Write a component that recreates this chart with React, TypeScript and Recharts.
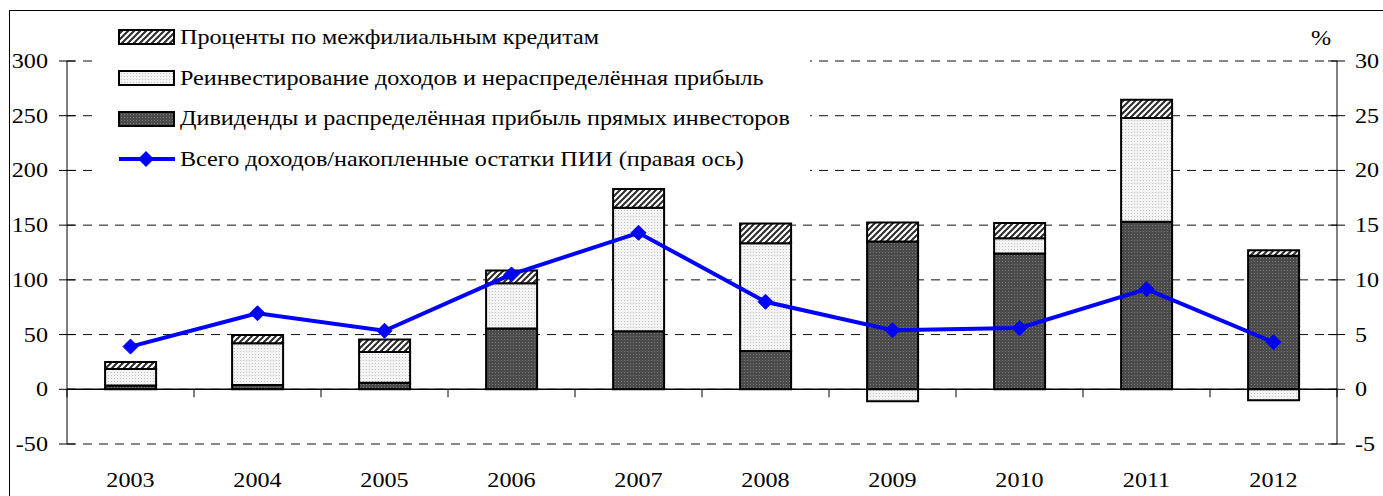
import {
  Bar,
  ComposedChart,
  CartesianGrid,
  Legend,
  Line,
  ReferenceLine,
  XAxis,
  YAxis,
} from 'recharts'

const YEARS = ['2003', '2004', '2005', '2006', '2007', '2008', '2009', '2010', '2011', '2012']
const DIVIDENDS = [3.5, 4, 6, 55.5, 53, 35, 135, 124, 153, 122]
const REINVESTED = [15, 38, 28, 41.5, 113, 98.5, -11, 14, 95, -10]
const INTEREST = [6.5, 7.5, 11.5, 11.5, 17, 18, 17.5, 14, 16.5, 5]
const INCOME_RATIO = [3.9, 6.95, 5.35, 10.5, 14.3, 8.0, 5.4, 5.6, 9.15, 4.3]

const LEFT_TICKS = [-50, 0, 50, 100, 150, 200, 250, 300]
const RIGHT_TICKS = [-5, 0, 5, 10, 15, 20, 25, 30]

const SERIES_NAMES = [
  'Проценты по межфилиальным кредитам',
  'Реинвестирование доходов и нераспределённая прибыль',
  'Дивиденды и распределённая прибыль прямых инвесторов',
  'Всего доходов/накопленные остатки ПИИ (правая ось)',
]

const W = 1383
const H = 496
const TOP = 61
const BOTTOM_AXIS = 52
const LEFT_AXIS = 67
const RIGHT_AXIS = 46
const PLOT_H = H - TOP - BOTTOM_AXIS
const ZERO_OFFSET = (PLOT_H * 50) / 350
const BAND_HALF = (W - LEFT_AXIS - RIGHT_AXIS) / YEARS.length / 2

const FONT = '"Liberation Serif", "Times New Roman", serif'
const STRETCH = 1.15

const data = YEARS.map((year, i) => ({
  year,
  dividends: DIVIDENDS[i],
  reinvested: REINVESTED[i],
  interest: INTEREST[i],
  ratio: INCOME_RATIO[i],
}))

function Patterns({ prefix }: { prefix: string }) {
  return (
    <defs>
      <pattern id={`${prefix}-dark`} width="3" height="3" patternUnits="userSpaceOnUse">
        <rect width="3" height="3" fill="#4b4b4b" />
        <rect width="1" height="1" fill="#7a7a7a" />
      </pattern>
      <pattern id={`${prefix}-light`} width="3" height="3" patternUnits="userSpaceOnUse">
        <rect width="3" height="3" fill="#f3f3f3" />
        <rect width="1" height="1" fill="#c4c4c4" />
      </pattern>
      <pattern id={`${prefix}-hatch`} width="6" height="6" patternUnits="userSpaceOnUse">
        <rect width="6" height="6" fill="#fff" />
        <path d="M-1,1 l2,-2 M0,6 l6,-6 M5,7 l2,-2" stroke="#2a2a2a" strokeWidth="2" />
      </pattern>
    </defs>
  )
}

function LeftTick({ x, y, payload }: any) {
  return (
    <g>
      <line x1={x - 8} x2={x + 8} y1={y} y2={y} stroke="#000" />
      <text
        transform={`translate(${x - 19},${y + 7}) scale(${STRETCH},1)`}
        textAnchor="end"
        fontSize={21}
        fontFamily={FONT}
        fill="#000"
      >
        {payload.value}
      </text>
    </g>
  )
}

function RightTick({ x, y, payload }: any) {
  return (
    <g>
      <line x1={x - 9} x2={x + 8} y1={y} y2={y} stroke="#000" />
      <text
        transform={`translate(${x + 18},${y + 7}) scale(${STRETCH},1)`}
        textAnchor="start"
        fontSize={21}
        fontFamily={FONT}
        fill="#000"
      >
        {payload.value}
      </text>
    </g>
  )
}

function YearTick({ x, y, payload, index }: any) {
  const zy = y - ZERO_OFFSET
  return (
    <g>
      <line x1={x - BAND_HALF} x2={x - BAND_HALF} y1={zy} y2={zy + 8} stroke="#000" />
      {index === YEARS.length - 1 && (
        <line x1={x + BAND_HALF} x2={x + BAND_HALF} y1={zy} y2={zy + 8} stroke="#000" />
      )}
      <text
        transform={`translate(${x},${y + 43}) scale(${STRETCH},1)`}
        textAnchor="middle"
        fontSize={21}
        fontFamily={FONT}
        fill="#000"
      >
        {payload.value}
      </text>
    </g>
  )
}

function Diamond({ cx, cy }: any) {
  if (cx == null || cy == null) return null
  const r = 7.5
  return (
    <polygon
      points={`${cx},${cy - r} ${cx + r},${cy} ${cx},${cy + r} ${cx - r},${cy}`}
      fill="#0000ff"
      stroke="#0000ff"
    />
  )
}

function LegendIcon({ kind }: { kind: string }) {
  if (kind === 'line') {
    return (
      <svg width={58} height={20} style={{ display: 'block' }}>
        <line x1={1} x2={57} y1={10} y2={10} stroke="#0000ff" strokeWidth={4} />
        <polygon points="28,2 36,10 28,18 20,10" fill="#0000ff" />
      </svg>
    )
  }
  return (
    <svg width={58} height={16} style={{ display: 'block' }}>
      <Patterns prefix="lg" />
      <rect x={1} y={1} width={55} height={14} fill={`url(#lg-${kind})`} stroke="#000" strokeWidth={2} />
    </svg>
  )
}

const LEGEND_KINDS = ['hatch', 'light', 'dark', 'line']

function ChartLegend() {
  return (
    <div style={{ fontFamily: FONT, fontSize: 21, color: '#000' }}>
      {SERIES_NAMES.map((name, i) => (
        <div key={name} style={{ height: 40.7, display: 'flex', alignItems: 'center', paddingLeft: 26 }}>
          <LegendIcon kind={LEGEND_KINDS[i]} />
          <span
            style={{
              marginLeft: 4,
              whiteSpace: 'nowrap',
              display: 'inline-block',
              transform: `scaleX(${STRETCH})`,
              transformOrigin: 'left center',
            }}
          >
            {name}
          </span>
        </div>
      ))}
    </div>
  )
}

export default function App() {
  return (
    <div style={{ position: 'absolute', left: 0, top: 0, width: W, height: H, overflow: 'hidden', background: '#fff' }}>
      <div
        style={{
          position: 'absolute',
          left: 9,
          top: 10,
          width: 2000,
          height: 2000,
          border: '1.5px solid #000',
        }}
      />
      <div style={{ position: 'absolute', left: 0, top: 0 }}>
        <ComposedChart
          width={W}
          height={H}
          data={data}
          stackOffset="sign"
          barCategoryGap="30%"
          margin={{ top: TOP, right: 0, bottom: 0, left: 0 }}
        >
          <Patterns prefix="ch" />
          <CartesianGrid vertical={false} stroke="#111" strokeDasharray="9 7" yAxisId="left" />
          <XAxis
            dataKey="year"
            height={BOTTOM_AXIS}
            axisLine={false}
            tickLine={false}
            tickSize={0}
            tickMargin={0}
            tick={<YearTick />}
            interval={0}
          />
          <YAxis
            yAxisId="left"
            domain={[-50, 300]}
            ticks={LEFT_TICKS}
            width={LEFT_AXIS}
            axisLine={{ stroke: '#000' }}
            tickLine={false}
            tickSize={0}
            tickMargin={0}
            tick={<LeftTick />}
            allowDataOverflow
          />
          <YAxis
            yAxisId="right"
            orientation="right"
            domain={[-5, 30]}
            ticks={RIGHT_TICKS}
            width={RIGHT_AXIS}
            axisLine={{ stroke: '#000' }}
            tickLine={false}
            tickSize={0}
            tickMargin={0}
            tick={<RightTick />}
            allowDataOverflow
            label={({ viewBox }: any) => (
              <text
                transform={`translate(${viewBox.x - 16},${viewBox.y - 16}) scale(${STRETCH},1)`}
                textAnchor="middle"
                fontSize={21}
                fontFamily={FONT}
                fill="#000"
              >
                %
              </text>
            )}
          />
          <Legend
            layout="vertical"
            align="center"
            verticalAlign="middle"
            wrapperStyle={{ left: 92, top: 17, width: 718, height: 163, background: '#fff' }}
            content={() => <ChartLegend />}
          />
          <Bar
            yAxisId="left"
            dataKey="dividends"
            name={SERIES_NAMES[2]}
            stackId="a"
            fill="url(#ch-dark)"
            stroke="#000"
            strokeWidth={2}
            isAnimationActive={false}
          />
          <Bar
            yAxisId="left"
            dataKey="reinvested"
            name={SERIES_NAMES[1]}
            stackId="a"
            fill="url(#ch-light)"
            stroke="#000"
            strokeWidth={2}
            isAnimationActive={false}
          />
          <Bar
            yAxisId="left"
            dataKey="interest"
            name={SERIES_NAMES[0]}
            stackId="a"
            fill="url(#ch-hatch)"
            stroke="#000"
            strokeWidth={2}
            isAnimationActive={false}
          />
          <ReferenceLine yAxisId="left" y={0} stroke="#000" strokeWidth={1.5} />
          <Line
            yAxisId="right"
            dataKey="ratio"
            name={SERIES_NAMES[3]}
            stroke="#0000ff"
            strokeWidth={4}
            dot={(p: any) => <Diamond key={`d-${p.index}`} cx={p.cx} cy={p.cy} />}
            activeDot={false}
            isAnimationActive={false}
          />
        </ComposedChart>
      </div>
    </div>
  )
}
